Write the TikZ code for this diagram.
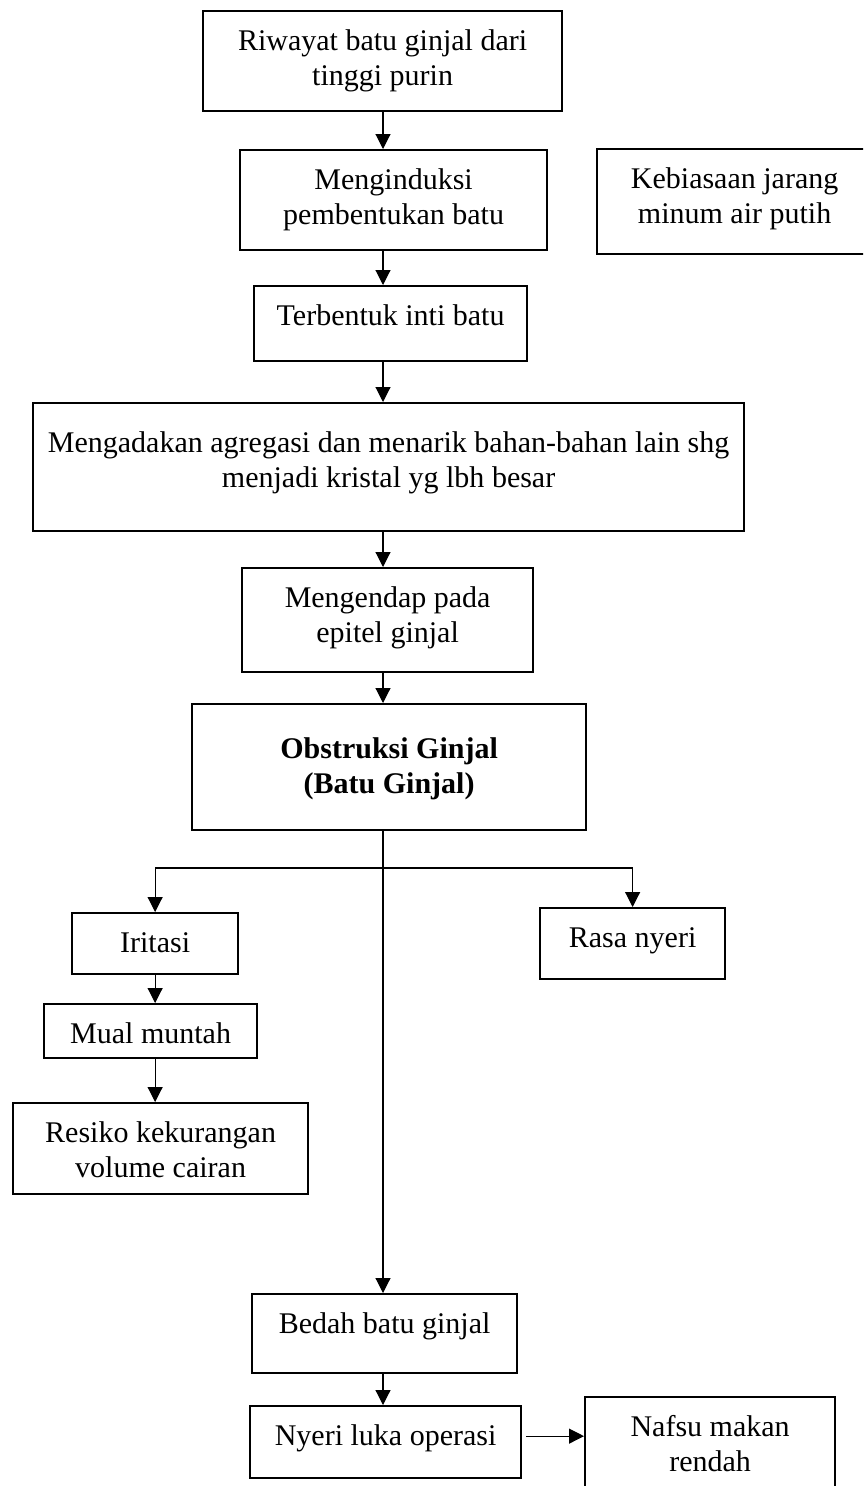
\documentclass[tikz,border=0pt]{standalone}
\usepackage{fontspec}
\setmainfont{Liberation Serif}
\usetikzlibrary{arrows.meta}

% one unit of the picture = one pixel of the reference
\newlength\pxu
\setlength\pxu{0.4pt}
% text sits at the top of its box, as in a word processor
\newcommand\boxtext[4][6pt]{\parbox[c][#3\pxu][t]{#2\pxu}{\centering\vspace*{#1}\strut#4}}

\begin{document}
\begin{tikzpicture}[x=0.4pt, y=-0.4pt,
    font=\fontsize{12}{14}\selectfont,
    box/.style={draw, line width=0.9pt, inner sep=0pt, anchor=north west},
    arr/.style={-{Triangle[width=6pt,length=6pt]}, line width=0.45pt}]
  \useasboundingbox (0,0) rectangle (863,1486);
  \clip (0,0) rectangle (863,1486);

  \node[box] (riwayat)   at (202,10)  {\boxtext{359}{100}{Riwayat batu ginjal dari\\tinggi purin}};
  \node[box] (induksi)   at (239,149) {\boxtext{307}{100}{Menginduksi\\pembentukan batu}};
  \node[box] (kebiasaan) at (596,148) {\boxtext{275}{105}{Kebiasaan jarang\\minum air putih}};
  \node[box] (inti)      at (253,285) {\boxtext{273}{75}{Terbentuk inti batu}};
  \node[box] (agregasi)  at (32,402)  {\boxtext[10pt]{711}{128}{Mengadakan agregasi dan menarik bahan-bahan lain shg\\menjadi kristal yg lbh besar}};
  \node[box] (endap)     at (241,567) {\boxtext{291}{104}{Mengendap pada\\epitel ginjal}};
  \node[box] (obstruksi) at (191,703) {\boxtext[12pt]{394}{126}{\textbf{Obstruksi Ginjal}\\\textbf{(Batu Ginjal)}}};

  \node[box] (iritasi)   at (71,912)   {\boxtext{166}{61}{Iritasi}};
  \node[box] (mual)      at (43,1003)  {\boxtext{213}{54}{Mual muntah}};
  \node[box] (resiko)    at (12,1102)  {\boxtext{295}{91}{Resiko kekurangan\\volume cairan}};
  \node[box] (nyeri)     at (539,907)  {\boxtext{185}{71}{Rasa nyeri}};

  \node[box] (bedah)     at (251,1293) {\boxtext{265}{79}{Bedah batu ginjal}};
  \node[box] (luka)      at (249,1405) {\boxtext{271}{72}{Nyeri luka operasi}};
  \node[box] (nafsu)     at (584,1396) {\boxtext{250}{110}{Nafsu makan\\rendah}};

  \coordinate (spine) at (383,0);
  \coordinate (fork) at (383,868);

  \draw[arr] (riwayat.south -| spine) -- (induksi.north -| spine);
  \draw[arr] (induksi.south -| spine) -- (inti.north -| spine);
  \draw[arr] (inti.south -| spine) -- (agregasi.north -| spine);
  \draw[arr] (agregasi.south -| spine) -- (endap.north -| spine);
  \draw[arr] (endap.south -| spine) -- (obstruksi.north -| spine);

  % branches below the obstruction
  \draw[arr] (obstruksi.south -| spine) -- (bedah.north -| spine);
  \draw[arr] (fork) -| (iritasi.north);
  \draw[arr] (fork) -| (nyeri.north);
  \draw[arr] (iritasi.south) -- (iritasi.south |- mual.north);
  \draw[arr] (mual.south -| iritasi) -- (resiko.north -| iritasi);

  \draw[arr] (bedah.south -| spine) -- (luka.north -| spine);
  \draw[arr] ([xshift=4\pxu, yshift=2.4pt]luka.east) -- ([yshift=2.4pt]luka.east -| nafsu.west);
\end{tikzpicture}
\end{document}
